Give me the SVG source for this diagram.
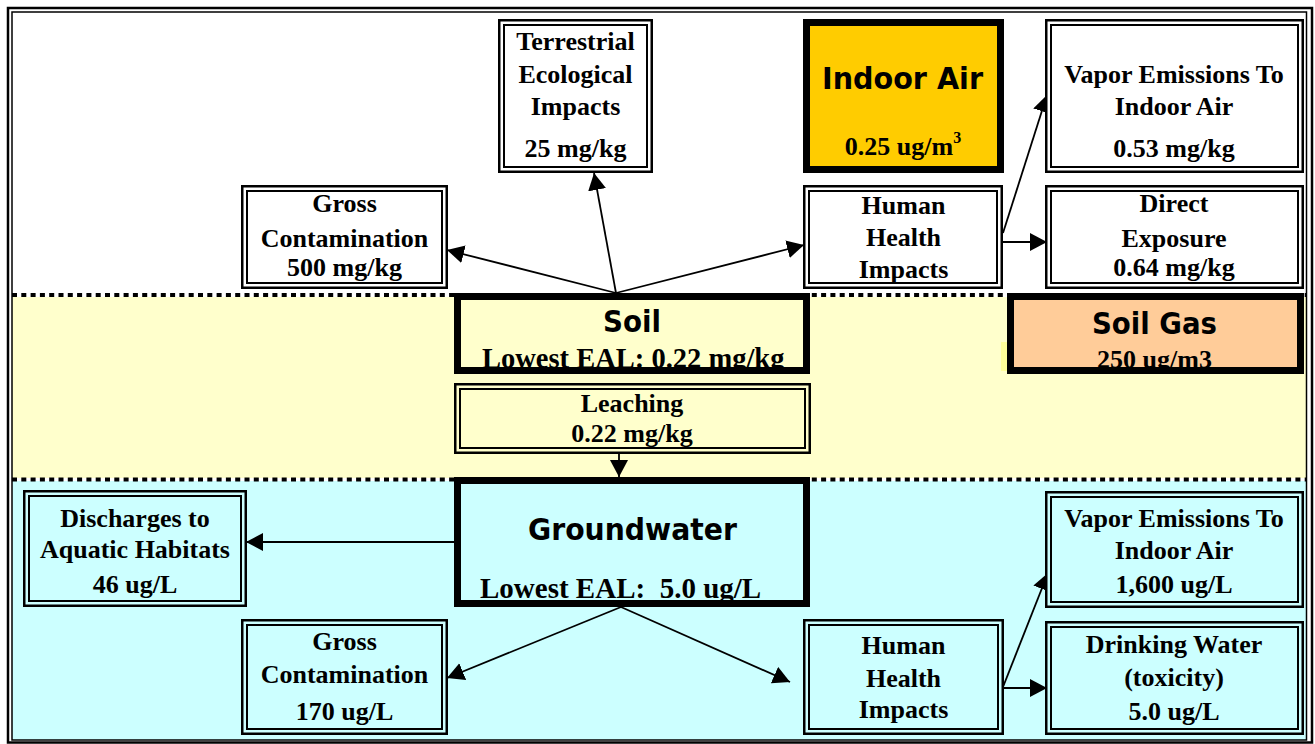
<svg xmlns="http://www.w3.org/2000/svg" width="1315" height="744" viewBox="0 0 1315 744">
<style>
.t{font-family:"Liberation Serif","Times New Roman",serif;font-weight:bold;font-size:26px;text-anchor:middle;fill:#000}
.h{font-family:"DejaVu Sans",Tahoma,sans-serif;font-weight:bold;font-size:31px;text-anchor:middle;fill:#000}
.o{fill:none;stroke:#000;stroke-width:2.5}
.i{fill:none;stroke:#000;stroke-width:2}
.k{fill:none;stroke:#000;stroke-width:7}
.c{fill:none;stroke:#000;stroke-width:1.8;marker-end:url(#ah)}
.dot{stroke:#000;stroke-width:4;stroke-dasharray:5 4.3;fill:none}
</style>
<defs>
<marker id="ah" markerUnits="userSpaceOnUse" markerWidth="18" markerHeight="19" refX="17" refY="9" orient="auto">
<path d="M0,0 L17,9 L0,18 Z" fill="#000"/>
</marker>
</defs>
<g id="background">
<rect x="0" y="0" width="1315" height="744" fill="#fff"/>
<rect x="12" y="297" width="1295" height="181" fill="#FFFFCC"/>
<rect x="12" y="481" width="1295" height="259" fill="#CCFFFF"/>
<rect x="1001" y="342" width="6" height="29" fill="#FFFF99"/>
<line class="dot" x1="12" y1="295" x2="1307" y2="295"/>
<line class="dot" x1="12" y1="479.5" x2="1307" y2="479.5"/>
<rect x="8" y="8" width="1304" height="734.5" fill="none" stroke="#000" stroke-width="2.5"/>
<rect x="12" y="12" width="1294.5" height="728" fill="none" stroke="#000" stroke-width="1.5"/>
</g>
<g id="connectors">
<line class="c" x1="616" y1="293" x2="447" y2="250"/>
<line class="c" x1="616" y1="293" x2="594" y2="173"/>
<line class="c" x1="616" y1="293" x2="804" y2="245"/>
<line class="c" x1="1003" y1="233" x2="1047" y2="95"/>
<line class="c" x1="1003" y1="242" x2="1047" y2="242"/>
<line class="c" x1="619" y1="454" x2="619" y2="477"/>
<line class="c" x1="454" y1="542" x2="246" y2="542"/>
<line class="c" x1="621" y1="607" x2="447" y2="678"/>
<line class="c" x1="621" y1="607" x2="790" y2="682"/>
<line class="c" x1="1003" y1="687" x2="1048" y2="573"/>
<line class="c" x1="1003" y1="688" x2="1047" y2="688"/>
</g>
<g id="gross-top">
<rect x="242.25" y="186.25" width="204.5" height="101.5" fill="#fff"/>
<text class="t" x="344.5" y="212">Gross</text>
<text class="t" x="344.5" y="247">Contamination</text>
<text class="t" x="344.5" y="276">500 mg/kg</text>
<rect class="o" x="242.25" y="186.25" width="204.5" height="101.5"/>
<rect class="i" x="247" y="191" width="195" height="92"/>
</g>
<g id="terrestrial">
<rect x="499.25" y="20.25" width="152.5" height="151.5" fill="#fff"/>
<text class="t" x="575.5" y="50">Terrestrial</text>
<text class="t" x="575.5" y="83">Ecological</text>
<text class="t" x="575.5" y="115">Impacts</text>
<text class="t" x="575.5" y="157">25 mg/kg</text>
<rect class="o" x="499.25" y="20.25" width="152.5" height="151.5"/>
<rect class="i" x="504" y="25" width="143" height="142"/>
</g>
<g id="indoor-air">
<rect x="806.5" y="22.5" width="194" height="147" fill="#FFCC00"/>
<text class="h" x="902.5" y="89" textLength="161" lengthAdjust="spacingAndGlyphs">Indoor Air</text>
<text class="t" x="903" y="155">0.25 ug/m<tspan dy="-12" font-size="16">3</tspan></text>
<rect class="k" x="806.5" y="22.5" width="194" height="147"/>
</g>
<g id="vapor-top">
<rect x="1046.25" y="20.25" width="256.5" height="151.5" fill="#fff"/>
<text class="t" x="1174" y="83">Vapor Emissions To</text>
<text class="t" x="1174" y="115">Indoor Air</text>
<text class="t" x="1174" y="157">0.53 mg/kg</text>
<rect class="o" x="1046.25" y="20.25" width="256.5" height="151.5"/>
<rect class="i" x="1051" y="25" width="247" height="142"/>
</g>
<g id="hh-top">
<rect x="804.25" y="186.25" width="197.5" height="101.5" fill="#fff"/>
<text class="t" x="903.5" y="214">Human</text>
<text class="t" x="903.5" y="246">Health</text>
<text class="t" x="903.5" y="278">Impacts</text>
<rect class="o" x="804.25" y="186.25" width="197.5" height="101.5"/>
<rect class="i" x="809" y="191" width="188" height="92"/>
</g>
<g id="direct">
<rect x="1046.25" y="186.25" width="256.5" height="101.5" fill="#fff"/>
<text class="t" x="1174" y="212">Direct</text>
<text class="t" x="1174" y="247">Exposure</text>
<text class="t" x="1174" y="276">0.64 mg/kg</text>
<rect class="o" x="1046.25" y="186.25" width="256.5" height="101.5"/>
<rect class="i" x="1051" y="191" width="247" height="92"/>
</g>
<g id="soil">
<rect x="457.5" y="296.5" width="349" height="74" fill="#FFFFCC"/>
<text class="h" x="632" y="332" textLength="58" lengthAdjust="spacingAndGlyphs">Soil</text>
<text class="t" x="482" y="368" style="text-anchor:start;font-size:28.5px">Lowest EAL: 0.22 mg/kg</text>
<rect class="k" x="457.5" y="296.5" width="349" height="74"/>
</g>
<g id="soil-gas">
<rect x="1010.5" y="296.5" width="290" height="74" fill="#FFCC99"/>
<text class="h" x="1154.5" y="334" textLength="125" lengthAdjust="spacingAndGlyphs">Soil Gas</text>
<text class="t" x="1154.5" y="368">250 ug/m3</text>
<rect class="k" x="1010.5" y="296.5" width="290" height="74"/>
</g>
<g id="leaching">
<rect x="455.25" y="384.25" width="354.5" height="68.5" fill="#FFFFCC"/>
<text class="t" x="632" y="412">Leaching</text>
<text class="t" x="632" y="442">0.22 mg/kg</text>
<rect class="o" x="455.25" y="384.25" width="354.5" height="68.5"/>
<rect class="i" x="460" y="389" width="345" height="59"/>
</g>
<g id="groundwater">
<rect x="457.5" y="480.5" width="349" height="123" fill="#CCFFFF"/>
<text class="h" x="632.5" y="540" textLength="209" lengthAdjust="spacingAndGlyphs">Groundwater</text>
<text class="t" x="480" y="598" xml:space="preserve" style="text-anchor:start;font-size:29px">Lowest EAL:  5.0 ug/L</text>
<rect class="k" x="457.5" y="480.5" width="349" height="123"/>
</g>
<g id="discharges">
<rect x="24.25" y="491.25" width="221.5" height="114.5" fill="#CCFFFF"/>
<text class="t" x="135" y="527">Discharges to</text>
<text class="t" x="135" y="558">Aquatic Habitats</text>
<text class="t" x="135" y="593">46 ug/L</text>
<rect class="o" x="24.25" y="491.25" width="221.5" height="114.5"/>
<rect class="i" x="29" y="496" width="212" height="105"/>
</g>
<g id="gross-bottom">
<rect x="242.25" y="620.25" width="204.5" height="113.5" fill="#CCFFFF"/>
<text class="t" x="344.5" y="650">Gross</text>
<text class="t" x="344.5" y="683">Contamination</text>
<text class="t" x="344.5" y="720">170 ug/L</text>
<rect class="o" x="242.25" y="620.25" width="204.5" height="113.5"/>
<rect class="i" x="247" y="625" width="195" height="104"/>
</g>
<g id="hh-bottom">
<rect x="804.25" y="620.25" width="198.5" height="113.5" fill="#CCFFFF"/>
<text class="t" x="903.5" y="654">Human</text>
<text class="t" x="903.5" y="687">Health</text>
<text class="t" x="903.5" y="718">Impacts</text>
<rect class="o" x="804.25" y="620.25" width="198.5" height="113.5"/>
<rect class="i" x="809" y="625" width="189" height="104"/>
</g>
<g id="vapor-bottom">
<rect x="1046.25" y="492.25" width="256.5" height="114.5" fill="#CCFFFF"/>
<text class="t" x="1174" y="527">Vapor Emissions To</text>
<text class="t" x="1174" y="559">Indoor Air</text>
<text class="t" x="1174" y="593">1,600 ug/L</text>
<rect class="o" x="1046.25" y="492.25" width="256.5" height="114.5"/>
<rect class="i" x="1051" y="497" width="247" height="105"/>
</g>
<g id="drinking">
<rect x="1046.25" y="622.25" width="256.5" height="111.5" fill="#CCFFFF"/>
<text class="t" x="1174" y="653">Drinking Water</text>
<text class="t" x="1174" y="686">(toxicity)</text>
<text class="t" x="1174" y="720">5.0 ug/L</text>
<rect class="o" x="1046.25" y="622.25" width="256.5" height="111.5"/>
<rect class="i" x="1051" y="627" width="247" height="102"/>
</g>
</svg>
